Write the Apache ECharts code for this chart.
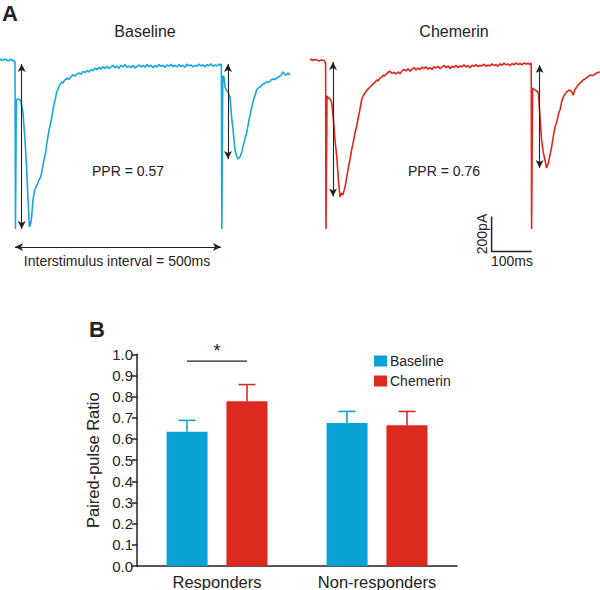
<!DOCTYPE html>
<html><head><meta charset="utf-8">
<script src="https://cdn.jsdelivr.net/npm/echarts@6/dist/echarts.min.js"></script>
<style>html,body{margin:0;padding:0;background:#fff}#c{width:600px;height:590px}</style>
</head><body><div id="c"></div>
<script>
// ---------- Panel A: traces (time in ms from first stimulus, current in pA) ----------
var baselineTrace = [
[-37.5,6],[-33,-2],[-30,0],[-26,5],[-22.5,3],[-19,-4],[-15,-3],[-11,4],[-7.5,0],[-2.5,-6],[0,-11],[1.2,-963],[2.2,-963],[3.2,-228],
[8.2,-222],[12.5,-228],[15,-239],[20,-302],[25,-456],[29,-610],[32.5,-798],[36,-952],[39,-935],[42,-884],
[45,-798],[49,-741],[54,-718],[60,-684],[64,-668],[67,-638],[72.5,-570],[76,-536],[79,-485],[85,-399],[88,-372],[92,-325],[97.5,-251],
[101,-222],[104,-182],[107,-170],[110,-148],[113,-140],[117,-125],[120,-132],[122.5,-120],[126,-112],[130,-103],[134,-110],[137.5,-103],
[140,-95],[145,-84],[150,-92],[155,-80],[160,-74],[165,-82],[170,-66],[175,-72],[180,-60],[185,-68],[190,-54],[195,-62],[200,-46],
[205,-55],[210,-42],[215,-52],[220,-38],[225,-48],[230,-36],[235,-50],[240,-40],[245,-30],[250,-44],[255,-34],[260,-48],[265,-30],
[270,-40],[275,-26],[280,-42],[285,-34],[290,-44],[295,-30],[300,-46],[305,-36],[310,-28],[315,-40],[320,-30],[325,-42],[330,-26],
[335,-38],[340,-30],[345,-44],[350,-32],[355,-40],[360,-26],[365,-36],[370,-30],[375,-42],[380,-28],[385,-36],[390,-24],[395,-38],
[400,-30],[405,-40],[410,-26],[415,-36],[420,-30],[425,-42],[430,-24],[435,-34],[440,-28],[445,-40],[450,-30],[455,-36],[460,-24],
[465,-34],[470,-28],[475,-40],[480,-26],[485,-34],[490,-22],[495,-36],[500,-28],[505,-34],[510,-24],[514,-30],[516,-23],[517,-963],[518,-963],[519.5,-91],[522.5,-97],
[525,-154],[529,-177],[532.5,-182],[537.5,-211],[541,-314],[546,-416],[550,-513],[554,-547],[558,-564],
[562.5,-553],[567,-524],[571,-485],[575,-450],[579,-416],[582,-380],[585,-342],[588,-310],[592,-268],[597.5,-217],[601,-196],[604,-171],[608,-160],
[612.5,-154],[616,-146],[620,-137],[625,-132],[629,-125],[633,-128],[637.5,-120],[641,-112],[645,-108],[650,-112],[654,-103],[658,-98],
[662.5,-91],[666,-84],[670,-68],[674,-80],[677.5,-86],[682.5,-74],[687.5,-86]
];
var chemerinTrace = [
[-40,0],[-36,4],[-32.5,-3],[-29,2],[-25,3],[-21,-2],[-17.5,-6],[-14,-1],[-10,0],[-4,-6],[-1,-17],[0,-963],[1.5,-963],[2.5,-205],
[6,-217],[10,-222],[14,-239],[18,-325],[22.5,-456],[27,-553],[31,-684],[35,-781],[38,-758],[42,-770],
[47.5,-724],[52,-668],[56,-610],[60,-566],[64,-513],[68,-470],[72.5,-416],[77,-372],[81,-325],[85,-280],[89,-228],[93,-205],[97.5,-188],
[103,-170],[110,-154],[114,-146],[117.5,-137],[122,-128],[127,-114],[131,-118],[135,-103],[140,-96],[144,-86],[147,-92],
[150,-80],[155,-70],[160,-64],[165,-76],[170,-70],[175,-80],[180,-68],[185,-78],[190,-62],[195,-54],[200,-62],[205,-50],[210,-64],
[215,-52],[220,-44],[225,-56],[230,-46],[235,-54],[240,-40],[245,-50],[250,-38],[255,-52],[260,-44],[265,-54],[270,-38],[275,-46],
[280,-36],[285,-50],[290,-40],[295,-30],[300,-44],[305,-34],[310,-48],[315,-36],[320,-42],[325,-30],[330,-44],[335,-34],[340,-40],
[345,-28],[350,-40],[355,-32],[360,-44],[365,-30],[370,-36],[375,-26],[380,-38],[385,-30],[390,-34],[395,-24],[400,-36],[405,-28],
[410,-34],[415,-22],[420,-32],[425,-26],[430,-36],[435,-22],[440,-30],[445,-18],[450,-28],[455,-22],[460,-32],[465,-20],[470,-28],
[475,-16],[480,-26],[485,-20],[490,-28],[495,-16],[500,-24],[505,-18],[510,-26],[513,-17],[514,-963],[515,-963],
[516.5,-160],[522.5,-171],[527,-177],[531,-188],[535,-325],[539,-456],[543,-524],[547.5,-570],[551.5,-616],
[556,-587],[560,-542],[564,-496],[568,-440],[572.5,-382],[576,-360],[579,-331],[582,-300],[585,-285],[589,-240],[593,-211],[597,-196],[601.5,-182],[605,-176],[610,-171],
[614,-182],[618,-200],[622,-170],[627,-154],[631,-140],[635,-131],[639,-124],[642.5,-114],[646,-110],[650,-103],[655,-96],[660,-86],[666,-90],[672.5,-80],[678,-72],[685,-68]
];
// amplitude arrows: [time, from pA, to pA]
var baselineArrows = [[16.7,-23,-963],[532.5,-23,-564]];
var chemerinArrows = [[17.5,-11,-778],[534,-28,-616]];
var intervalArrow = {from:0, to:515, level:-1066};
var scaleBar = {t0:414, i0:-1092, time:100, current:200};

// ---------- Panel B: bar chart ----------
var categories = ['Responders','Non-responders'];
var baselineMean = [0.634, 0.676];
var baselineSem  = [0.054, 0.054];
var chemerinMean = [0.778, 0.665];
var chemerinSem  = [0.079, 0.065];
var yTicks = {min:0, max:1.0, interval:0.1};
var significance = [[0, 0.968, '*']];

var BLUE='#0aa2d6', RED='#dc2b1e', TBLUE='#17a6dd', TRED='#e2261c', INK='#222';
var FONT='"Liberation Sans", Arial, sans-serif';

function arrowLines(arr){
  return arr.map(function(a){return [{coord:[a[0],a[1]]},{coord:[a[0],a[2]]}];});
}
var mlCommon = {silent:true, symbol:['arrow','arrow'], symbolSize:[6,8], label:{show:false},
  lineStyle:{color:INK, width:1.1, type:'solid'}, emphasis:{disabled:true}, animation:false};

function errRender(offset, color){
  return function(params, api){
    var c = api.value(0);
    var p1 = api.coord([c, api.value(1)]);
    var p2 = api.coord([c, api.value(2)]);
    var x = p1[0] + offset;
    return {type:'group', children:[
      {type:'line', shape:{x1:x,y1:p1[1],x2:x,y2:p2[1]}, style:{stroke:color,lineWidth:1.6}},
      {type:'line', shape:{x1:x-8.5,y1:p2[1],x2:x+8.5,y2:p2[1]}, style:{stroke:color,lineWidth:1.6}}
    ]};
  };
}

var chart = echarts.init(document.getElementById('c'), null, {renderer:'svg'});
var hiddenAxis = {show:false, axisLine:{show:false}, splitLine:{show:false}};
chart.setOption({
  animation:false,
  backgroundColor:'#fff',
  textStyle:{fontFamily:FONT},
  grid:[
    {left:0, top:40, width:290, height:220},
    {left:310, top:40, width:290, height:220},
    {left:137, top:354.3, width:320, height:213}
  ],
  xAxis:[
    Object.assign({type:'value', gridIndex:0, min:-37.5, max:687.5}, hiddenAxis),
    Object.assign({type:'value', gridIndex:1, min:-40, max:685}, hiddenAxis),
    {type:'category', gridIndex:2, data:categories,
     axisLine:{lineStyle:{color:INK, width:1.5}},
     axisTick:{alignWithLabel:true, length:5, lineStyle:{color:INK, width:1.5}},
     axisLabel:{color:INK, fontSize:16.5, margin:7, fontFamily:FONT}}
  ],
  yAxis:[
    Object.assign({type:'value', gridIndex:0, min:-1140, max:114}, hiddenAxis),
    Object.assign({type:'value', gridIndex:1, min:-1140, max:114}, hiddenAxis),
    {type:'value', gridIndex:2, min:yTicks.min, max:yTicks.max, interval:yTicks.interval,
     name:'Paired-pulse Ratio', nameLocation:'middle', nameGap:31,
     nameTextStyle:{color:INK, fontSize:16.5, fontFamily:FONT},
     axisLine:{show:true, lineStyle:{color:INK, width:1.5}},
     axisTick:{show:true, length:5, lineStyle:{color:INK, width:1.5}},
     axisLabel:{color:INK, fontSize:15, margin:4, fontFamily:FONT, formatter:function(v){return v.toFixed(1);}},
     splitLine:{show:false}}
  ],
  legend:{data:['Baseline','Chemerin'], orient:'vertical', left:369, top:349, itemWidth:13, itemHeight:11,
    itemGap:6, icon:'rect', textStyle:{color:INK, fontSize:14, fontFamily:FONT, padding:[0,0,0,-2]}},
  series:[
    {type:'line', name:'BaselineTrace', xAxisIndex:0, yAxisIndex:0, data:baselineTrace, showSymbol:false,
     lineStyle:{color:TBLUE, width:1.6}, silent:true,
     markLine:Object.assign({data:arrowLines(baselineArrows).concat([[{coord:[intervalArrow.from,intervalArrow.level]},{coord:[intervalArrow.to,intervalArrow.level]}]])}, mlCommon)},
    {type:'line', name:'ChemerinTrace', xAxisIndex:1, yAxisIndex:1, data:chemerinTrace, showSymbol:false,
     lineStyle:{color:TRED, width:1.6}, silent:true,
     markLine:Object.assign({data:arrowLines(chemerinArrows)}, mlCommon)},
    {type:'line', name:'ScaleBar', xAxisIndex:1, yAxisIndex:1, showSymbol:false, silent:true,
     data:[[scaleBar.t0, scaleBar.i0+scaleBar.current],[scaleBar.t0, scaleBar.i0],[scaleBar.t0+scaleBar.time, scaleBar.i0]],
     lineStyle:{color:INK, width:1.5}},
    {type:'bar', name:'Baseline', xAxisIndex:2, yAxisIndex:2, data:baselineMean, barWidth:41, barGap:'46%',
     itemStyle:{color:BLUE}},
    {type:'bar', name:'Chemerin', xAxisIndex:2, yAxisIndex:2, data:chemerinMean, barWidth:41,
     itemStyle:{color:RED}},
    {type:'custom', name:'errB', xAxisIndex:2, yAxisIndex:2, z:3, silent:true,
     renderItem:errRender(-30, BLUE),
     data:baselineMean.map(function(m,i){return [i, m, +(m+baselineSem[i]).toFixed(3)];})},
    {type:'custom', name:'errC', xAxisIndex:2, yAxisIndex:2, z:3, silent:true,
     renderItem:errRender(30, RED),
     data:chemerinMean.map(function(m,i){return [i, m, +(m+chemerinSem[i]).toFixed(3)];})},
    {type:'custom', name:'sig', xAxisIndex:2, yAxisIndex:2, z:3, silent:true,
     renderItem:function(params, api){
       var p = api.coord([api.value(0), api.value(1)]);
       return {type:'group', children:[
         {type:'line', shape:{x1:p[0]-30,y1:p[1],x2:p[0]+30,y2:p[1]}, style:{stroke:INK,lineWidth:1.3}},
         {type:'text', x:p[0], y:p[1]-1, style:{text:significance[params.dataIndex][2], align:'center', verticalAlign:'bottom', font:'18px '+FONT, fill:INK}}
       ]};
     },
     data:significance.map(function(s){return [s[0], s[1]];})}
  ],
  graphic:[
    {type:'text', x:2, y:2, style:{text:'A', font:'bold 22px '+FONT, fill:INK}},
    {type:'text', x:89, y:318, style:{text:'B', font:'bold 22px '+FONT, fill:INK}},
    {type:'text', x:145, y:31, style:{text:'Baseline', align:'center', verticalAlign:'middle', font:'16px '+FONT, fill:INK}},
    {type:'text', x:454, y:31, style:{text:'Chemerin', align:'center', verticalAlign:'middle', font:'16px '+FONT, fill:INK}},
    {type:'text', x:128, y:171, style:{text:'PPR = 0.57', align:'center', verticalAlign:'middle', font:'14px '+FONT, fill:INK}},
    {type:'text', x:444, y:171, style:{text:'PPR = 0.76', align:'center', verticalAlign:'middle', font:'14px '+FONT, fill:INK}},
    {type:'text', x:117, y:261, style:{text:'Interstimulus interval = 500ms', align:'center', verticalAlign:'middle', font:'14px '+FONT, fill:INK}},
    {type:'text', x:512, y:261, style:{text:'100ms', align:'center', verticalAlign:'middle', font:'14px '+FONT, fill:INK}},
    {type:'text', x:482, y:234, rotation:Math.PI/2, style:{text:'200pA', align:'center', verticalAlign:'middle', font:'14px '+FONT, fill:INK}}
  ]
});
</script>
</body></html>
